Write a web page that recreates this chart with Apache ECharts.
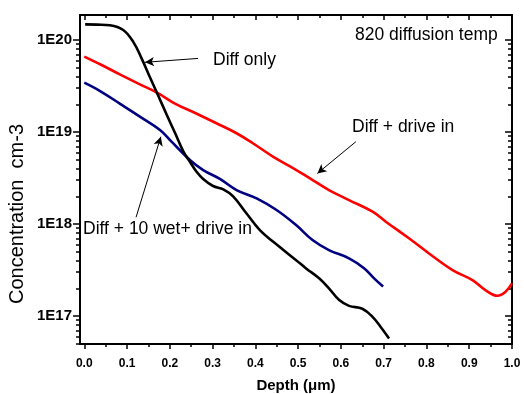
<!DOCTYPE html>
<html>
<head>
<meta charset="utf-8">
<script src="https://cdn.jsdelivr.net/npm/echarts@6/dist/echarts.min.js"></script>
<style>
  html, body { margin: 0; padding: 0; background: #fff; }
  #chart { width: 524px; height: 394px; }
</style>
</head>
<body>
<div id="chart"></div>
<script>
// depth in um, concentration in cm-3
const diffOnlyDepth = [0.002, 0.03, 0.06, 0.091, 0.1145, 0.134, 0.153, 0.173, 0.1925, 0.212, 0.2315, 0.247, 0.2626, 0.278, 0.301, 0.325, 0.348, 0.379, 0.4105, 0.457, 0.4946, 0.518, 0.549, 0.572, 0.596, 0.619, 0.65, 0.674, 0.693, 0.7126];
const diffOnlyConc = [1.48e20, 1.47e20, 1.445e20, 1.285e20, 9.55e19, 6.31e19, 3.98e19, 2.48e19, 1.55e19, 9.8e18, 6.17e18, 4.75e18, 3.7e18, 3.09e18, 2.59e18, 2.38e18, 2.0e18, 1.31e18, 8.6e17, 5.62e17, 4.07e17, 3.31e17, 2.57e17, 2.0e17, 1.49e17, 1.29e17, 1.2e17, 9.8e16, 7.6e16, 5.7e16];

const driveInDepth = [0.0, 0.037, 0.083, 0.13, 0.173, 0.212, 0.263, 0.309, 0.356, 0.395, 0.442, 0.492, 0.534, 0.572, 0.619, 0.674, 0.705, 0.759, 0.806, 0.861, 0.9075, 0.9386, 0.966, 0.985, 1.0];
const driveInConc = [6.6e19, 5.45e19, 4.24e19, 3.3e19, 2.63e19, 2.04e19, 1.58e19, 1.245e19, 9.7e18, 7.5e18, 5.37e18, 3.96e18, 3.0e18, 2.34e18, 1.82e18, 1.36e18, 1.06e18, 7.0e17, 4.79e17, 3.16e17, 2.45e17, 1.9e17, 1.66e17, 1.84e17, 2.26e17];

const wetDepth = [0.0, 0.037, 0.083, 0.13, 0.177, 0.204, 0.247, 0.278, 0.317, 0.356, 0.403, 0.4495, 0.4946, 0.5336, 0.572, 0.619, 0.654, 0.6776, 0.6986];
const wetConc = [3.44e19, 2.79e19, 2.04e19, 1.47e19, 1.05e19, 7.85e18, 4.97e18, 3.86e18, 3.09e18, 2.34e18, 1.9e18, 1.42e18, 9.8e17, 6.7e17, 5.21e17, 4.24e17, 3.31e17, 2.57e17, 2.09e17];

const xTickLabels = [0.0, 0.1, 0.2, 0.3, 0.4, 0.5, 0.6, 0.7, 0.8, 0.9, 1.0];
const xMinorTicks = [0.05, 0.15, 0.25, 0.35, 0.45, 0.55, 0.65, 0.75, 0.85, 0.95];
const yDecades = [17, 18, 19, 20];

// annotation arrows: [depth, log10 conc] tail -> head
const arrowTails = [[0.266, 19.80], [0.635, 18.895], [0.121, 18.073]];
const arrowHeads = [[0.142, 19.758], [0.545, 18.55], [0.179, 18.949]];

const yMinorTicks = [];
for (let d = 16; d <= 20; d++) {
  for (let m = 2; m <= 9; m++) {
    const v = d + Math.log10(m);
    if (v > 16.696 && v < 20.272) yMinorTicks.push(v);
  }
}

const toPairs = (xs, ys) => xs.map((x, i) => [x, Math.log10(ys[i])]);

const chart = echarts.init(document.getElementById('chart'));

const X_MIN = -0.01, X_MAX = 1.0, Y_MIN = 16.696, Y_MAX = 20.272;
const black = '#000';

function xAx(pos, ticks, len, inside, showLine, labels) {
  return {
    type: 'value', position: pos, min: X_MIN, max: X_MAX,
    axisLine: { show: showLine, onZero: false, lineStyle: { color: black, width: 2 } },
    axisTick: { show: true, inside: inside, length: len, customValues: ticks, lineStyle: { color: black, width: 1.5 } },
    axisLabel: labels ? {
      show: true, customValues: xTickLabels, margin: 14,
      formatter: v => v.toFixed(1),
      fontFamily: 'Liberation Sans', fontWeight: 'bold', fontSize: 12, color: black
    } : { show: false },
    splitLine: { show: false }
  };
}

function yAx(pos, ticks, len, inside, showLine, labels) {
  return {
    type: 'value', position: pos, min: Y_MIN, max: Y_MAX,
    axisLine: { show: showLine, onZero: false, lineStyle: { color: black, width: 2 } },
    axisTick: { show: true, inside: inside, length: len, customValues: ticks, lineStyle: { color: black, width: 1.5 } },
    axisLabel: labels ? {
      show: true, customValues: yDecades, margin: 8,
      formatter: v => '1E' + Math.round(v),
      fontFamily: 'Liberation Sans', fontWeight: 'bold', fontSize: 15, color: black
    } : { show: false },
    splitLine: { show: false }
  };
}

const lineSeries = (name, xs, ys, color) => ({
  name: name, type: 'line', smooth: 0.4, showSymbol: false,
  data: toPairs(xs, ys),
  lineStyle: { color: color, width: 2.6 },
  itemStyle: { color: color },
  xAxisIndex: 0, yAxisIndex: 0
});

const textStyle = (text, x, y) => ({
  type: 'text', x: x, y: y,
  style: {
    text: text, font: '17.5px "Liberation Sans"', fill: black,
    textAlign: 'left', textVerticalAlign: 'middle', align: 'left', verticalAlign: 'middle'
  }
});

const option = {
  animation: false,
  backgroundColor: '#fff',
  grid: { left: 80, right: 12, top: 15, bottom: 50, containLabel: false },
  xAxis: [
    xAx('bottom', xTickLabels, 5, false, true, true),
    xAx('bottom', xMinorTicks, 3, false, false, false),
    xAx('top', xTickLabels, 5, true, true, false),
    xAx('top', xMinorTicks, 3, true, false, false)
  ],
  yAxis: [
    yAx('left', yDecades, 7, false, true, true),
    yAx('left', yMinorTicks, 4, false, false, false),
    yAx('right', yDecades, 7, true, true, false),
    yAx('right', yMinorTicks, 4, true, false, false)
  ],
  series: [
    lineSeries('Diff + drive in', driveInDepth, driveInConc, '#ff0000'),
    lineSeries('Diff + 10 wet+ drive in', wetDepth, wetConc, '#000080'),
    Object.assign(lineSeries('Diff only', diffOnlyDepth, diffOnlyConc, '#000000'), {
      markLine: {
        silent: true, animation: false,
        symbol: ['none', 'arrow'], symbolSize: [7, 9],
        label: { show: false },
        lineStyle: { color: black, width: 1, type: 'solid' },
        emphasis: { disabled: true },
        data: arrowTails.map((t, i) => [{ coord: t }, { coord: arrowHeads[i] }])
      }
    })
  ],
  graphic: [
    textStyle('820 diffusion temp', 355, 35),
    textStyle('Diff only', 213, 60),
    textStyle('Diff + drive in', 352, 127),
    textStyle('Diff + 10 wet+ drive in', 83, 229),
    {
      type: 'text', x: 17, y: 214, rotation: Math.PI / 2,
      style: {
        text: 'Concentration  cm-3', font: '20px "Liberation Sans"', fill: black,
        textAlign: 'center', textVerticalAlign: 'middle', align: 'center', verticalAlign: 'middle'
      }
    },
    {
      type: 'text', x: 296, y: 386,
      style: {
        text: 'Depth (\u03bcm)', font: 'bold 15px "Liberation Sans"', fill: black,
        textAlign: 'center', textVerticalAlign: 'middle', align: 'center', verticalAlign: 'middle'
      }
    }
  ]
};

chart.setOption(option);
</script>
</body>
</html>
